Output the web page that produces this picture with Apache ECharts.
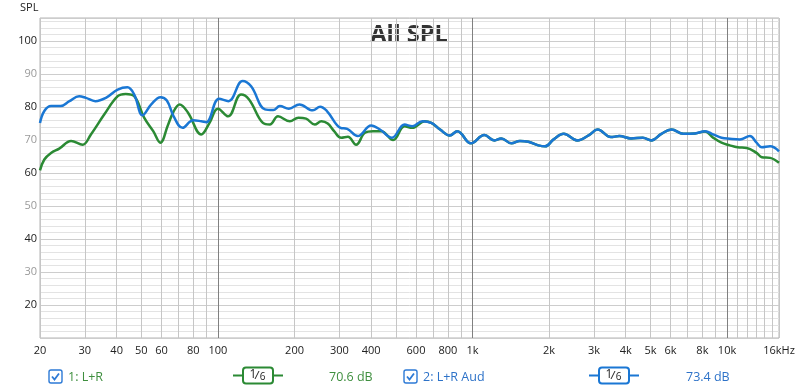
<!DOCTYPE html>
<html><head><meta charset="utf-8">
<script src="https://cdn.jsdelivr.net/npm/echarts@6/dist/echarts.min.js"></script>
<style>html,body{margin:0;padding:0;background:#fff}#c{width:800px;height:389px}</style>
</head><body><div id="c"></div>
<script>
// ---- data ----
const blueFreq = [20,20.8,22.1,24.1,26.1,28.5,30.3,33.0,36.3,40.4,44.1,46.9,50.6,54.7,59.5,63,67,72.6,79.9,86,90,101,110,125,135,153,165,175,190,209,236,252,268,303,322,354,400,433,482,541,580,636,689,746,814,872,986,1113,1220,1297,1422,1535,1657,1814,1930,2083,2283,2581,2869,3100,3496,3773,4200,4670,5040,5520,6050,6730,7480,8200,8820,9510,10250,11230,12300,13060,13700,14770,16000];
const blueSPL  = [75.2,78.8,80.3,80.3,81.8,83.3,82.8,81.8,82.8,85.3,86.0,83.8,77.5,80.8,83.0,82.0,77.2,73.7,76.0,75.7,75.4,82.5,81.8,87.9,86.3,79.3,79.1,80.3,79.5,80.8,79.0,80.1,78.8,73.7,73.4,71.2,74.4,73.2,70.7,74.7,74.2,75.7,75.2,73.2,71.4,72.7,69.0,71.5,69.9,70.5,69.0,69.7,69.5,68.4,68.1,70.2,71.9,69.9,71.5,73.2,70.9,71.2,70.5,70.7,69.9,71.9,73.2,71.9,72.0,72.7,71.7,70.7,70.4,70.2,71.2,69.2,67.8,68.1,66.6];
const greenFreq = [20,20.8,22.1,23.8,26.5,29.4,31.7,35.8,40.4,43.4,46.9,51.3,55.7,59.4,63.6,66.8,70.7,76.3,86,92.7,100,109.6,123.3,132.5,150.2,159.9,172.2,191.6,207,222,240,255,270,286,305,324,349,378,407,438,488,541,580,650,689,746,814,872,986,1113,1220,1297,1422,1535,1657,1814,1930,2083,2283,2581,2869,3100,3496,3773,4200,4670,5040,5520,6050,6730,7480,8200,8820,9510,10250,11000,11950,13060,13700,14770,16000];
const greenSPL  = [60.8,64.1,66.1,67.4,69.7,68.6,71.7,77.8,83.3,84.0,83.3,76.8,72.7,69.2,74.5,78.5,80.8,78.3,71.7,75.2,79.5,77.2,83.8,82.3,75.2,74.7,77.2,75.7,76.8,76.5,74.7,75.7,75.0,72.7,70.7,71.0,68.6,72.2,72.7,72.7,70.0,74.2,73.7,75.7,75.2,73.2,71.4,72.7,69.0,71.5,69.9,70.5,69.0,69.7,69.5,68.4,68.1,70.2,71.9,69.9,71.5,73.2,70.9,71.2,70.5,70.7,69.9,71.9,73.2,71.9,72.0,72.6,70.7,69.2,68.4,67.8,67.6,66.1,64.8,64.6,63.1];
const gridFreqs = [20,30,40,50,60,70,80,90,100,200,300,400,500,600,700,800,900,1000,2000,3000,4000,5000,6000,7000,8000,9000,10000,11000,12000,13000,14000,15000,16000];
const majorFreqs = [100,1000,10000];
const labelFreqs = [20,30,40,50,60,80,100,200,300,400,600,800,1000,2000,3000,4000,5000,6000,8000,10000,16000];
const yTicks = [20,30,40,50,60,70,80,90,100];
const seriesNames = ['1: L+R','2: L+R Aud'];
const seriesLevels = ['70.6 dB','73.4 dB'];
const smoothLabel = ['1','6'];

const GREEN = '#2b8a34', BLUE = '#1a77d4';
const GTXT = '#3f8f3f', BTXT = '#2d72c8';
const FONT = '"Open Sans", "Noto Sans", sans-serif';

function pairs(fs, vs){ return fs.map((f,i)=>[f,vs[i]]); }
function fmtF(f){ if (f===16000) return '16kHz'; return f>=1000 ? (f/1000)+'k' : String(f); }

function legendItem(x0, color, txtColor, name, level, iconX, levelX){
  const y = 377;
  return [
    {type:'rect', shape:{x:x0, y:y-7, width:13, height:13, r:2}, style:{fill:'#fff', stroke:'#2d7ad6', lineWidth:1.4}},
    {type:'polyline', shape:{points:[[x0+3,y-0.5],[x0+5.5,y+2.5],[x0+10,y-3.5]]}, style:{stroke:'#2d7ad6', lineWidth:1.8, fill:null}},
    {type:'text', x:x0+19, y:y, style:{text:name, fill:txtColor, font:'12.5px '+FONT, verticalAlign:'middle'}},
    {type:'line', shape:{x1:iconX, y1:y-1.5, x2:iconX+50, y2:y-1.5}, style:{stroke:color, lineWidth:2}},
    {type:'rect', shape:{x:iconX+10, y:y-9.5, width:30, height:16, r:3}, style:{fill:'#fff', stroke:color, lineWidth:2}},
    {type:'text', x:iconX+20, y:y-2.5, style:{text:smoothLabel[0], fill:'#222', font:'12px '+FONT, align:'center', verticalAlign:'middle'}},
    {type:'line', shape:{x1:iconX+22, y1:y+2, x2:iconX+26, y2:y-6}, style:{stroke:'#222', lineWidth:1}},
    {type:'text', x:iconX+29.5, y:y+0.5, style:{text:smoothLabel[1], fill:'#222', font:'10px '+FONT, align:'center', verticalAlign:'middle'}},
    {type:'text', x:levelX, y:y, style:{text:level, fill:txtColor, font:'12.5px '+FONT, verticalAlign:'middle'}}
  ];
}

const chart = echarts.init(document.getElementById('c'), null, {renderer:'canvas'});
chart.setOption({
  animation:false,
  backgroundColor:'#fff',
  grid:{left:40, top:18, width:739, height:320, show:true, borderColor:'#b4b4b4', borderWidth:1, backgroundColor:'transparent'},
  xAxis:[{
    type:'log', logBase:10, min:20, max:16000,
    axisLine:{show:false},
    axisTick:{show:false, customValues:gridFreqs},
    splitLine:{show:true, lineStyle:{color:'#c6c6c6', width:1}},
    axisLabel:{customValues:labelFreqs, formatter:fmtF, color:'#222', fontSize:11, fontFamily:FONT, margin:7, hideOverlap:false, showMinLabel:true, showMaxLabel:true}
  },{
    type:'log', logBase:10, min:20, max:16000, position:'bottom',
    axisLine:{show:false},
    axisTick:{show:false, customValues:majorFreqs},
    axisLabel:{show:false},
    splitLine:{show:true, lineStyle:{color:'#808080', width:1}}
  }],
  yAxis:{
    type:'value', min:10, max:107, interval:10,
    axisLine:{show:false}, axisTick:{show:false},
    splitLine:{show:true, lineStyle:{color:'#cdcdcd'}},
    minorTick:{show:false, splitNumber:5},
    minorSplitLine:{show:true, lineStyle:{color:'#e3e3e3'}},
    axisLabel:{
      margin:3, fontSize:11, fontFamily:FONT,
      formatter:function(v){
        if (yTicks.indexOf(v)<0) return '';
        return (v%20===0 ? '{d|' : '{g|') + v + '}';
      },
      rich:{d:{color:'#222', fontSize:11, fontFamily:FONT}, g:{color:'#9a9a9a', fontSize:11, fontFamily:FONT}}
    }
  },
  series:[
    {name:seriesNames[0], type:'line', xAxisIndex:0, data:pairs(greenFreq, greenSPL), showSymbol:false, smooth:0.4,
     lineStyle:{color:GREEN, width:2.5}, itemStyle:{color:GREEN}, z:3},
    {name:seriesNames[1], type:'line', xAxisIndex:0, data:pairs(blueFreq, blueSPL), showSymbol:false, smooth:0.4,
     lineStyle:{color:BLUE, width:2.5}, itemStyle:{color:BLUE}, z:4}
  ],
  graphic:[
    {type:'text', x:409, y:35, style:{text:'All SPL', fill:'#333', font:'bold 23.5px '+FONT, align:'center', verticalAlign:'middle'}},
    {type:'text', x:20, y:8, style:{text:'SPL', fill:'#222', font:'11px '+FONT, verticalAlign:'middle'}}
  ].concat(
    legendItem(49, GREEN, GTXT, seriesNames[0], seriesLevels[0], 233, 329),
    legendItem(404, BLUE, BTXT, seriesNames[1], seriesLevels[1], 589, 686)
  )
});
</script></body></html>
